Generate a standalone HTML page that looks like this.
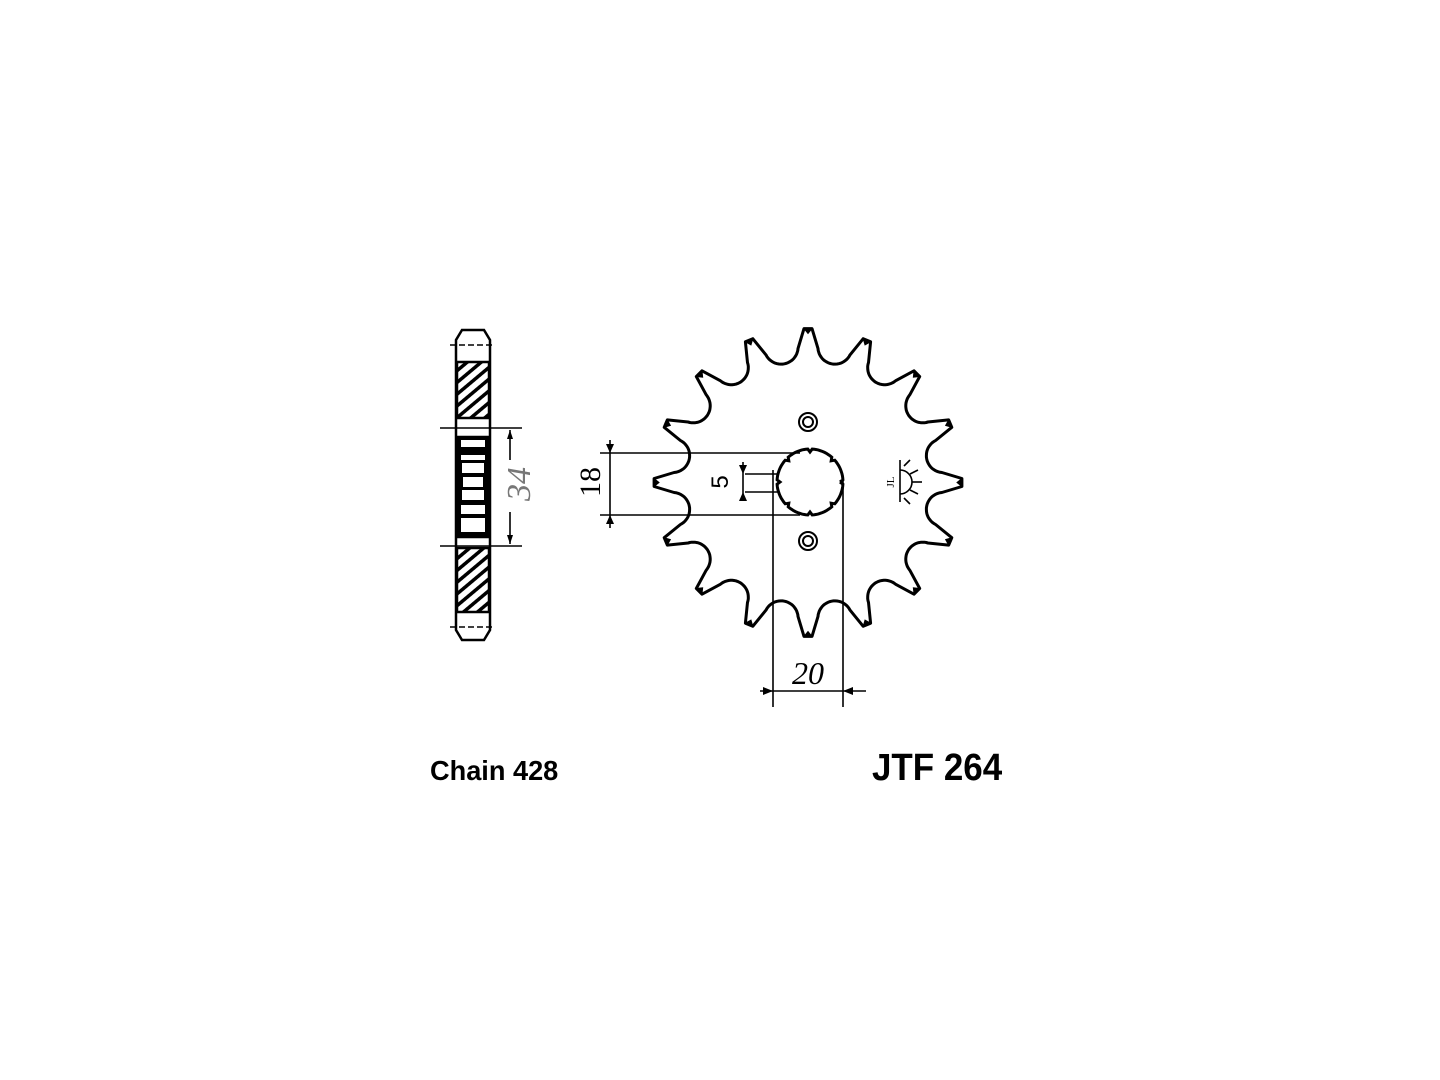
<!DOCTYPE html>
<html><head><meta charset="utf-8"><style>
html,body{margin:0;padding:0;background:#fff;width:1440px;height:1080px;overflow:hidden}
svg{position:absolute;left:0;top:0}
</style></head><body>
<svg id="s" width="1440" height="1080" viewBox="0 0 1440 1080" xmlns="http://www.w3.org/2000/svg">
<defs>
<pattern id="h" width="9" height="9" patternUnits="userSpaceOnUse" patternTransform="rotate(-40)">
<rect width="9" height="9" fill="#fff"/><rect width="9" height="3.5" fill="#000"/></pattern>
</defs>
<path id="gear" fill="none" stroke="#000" stroke-width="3" stroke-linejoin="round"/>
<g id="tips"></g>
<path id="hub" fill="none" stroke="#000" stroke-width="3"/>
<circle cx="808" cy="422" r="9" fill="none" stroke="#000" stroke-width="2"/>
<circle cx="808" cy="422" r="5" fill="none" stroke="#000" stroke-width="2"/>
<circle cx="808" cy="541" r="9" fill="none" stroke="#000" stroke-width="2"/>
<circle cx="808" cy="541" r="5" fill="none" stroke="#000" stroke-width="2"/>
<g stroke="#000" stroke-width="1.6" fill="none">
<line x1="600" y1="453" x2="800" y2="453"/>
<line x1="600" y1="515" x2="800" y2="515"/>
<line x1="610" y1="440" x2="610" y2="528"/>
<line x1="745" y1="474" x2="778" y2="474"/>
<line x1="745" y1="492" x2="778" y2="492"/>
<line x1="743" y1="462" x2="743" y2="500"/>
<line x1="773" y1="470" x2="773" y2="707"/>
<line x1="843" y1="478" x2="843" y2="707"/>
<line x1="760" y1="691" x2="866" y2="691"/>
<line x1="900" y1="460" x2="900" y2="502"/>
<path d="M900 470 A12 12 0 0 1 900 494"/>
<line x1="904" y1="466" x2="910" y2="460"/><line x1="910" y1="474" x2="918" y2="470"/>
<line x1="912" y1="482" x2="922" y2="482"/><line x1="910" y1="490" x2="918" y2="494"/>
<line x1="904" y1="498" x2="910" y2="504"/>
</g>
<g fill="#000">
<path d="M610 453 l-4 -9 h8z"/><path d="M610 515 l-4 9 h8z"/>
<path d="M743 474 l-4 -9 h8z"/><path d="M743 492 l-4 9 h8z"/>
<path d="M773 691 l-10 -4 v8z"/><path d="M843 691 l10 -4 v8z"/>
</g>
<text transform="translate(600 482) rotate(-90)" font-family="Liberation Serif, serif" font-size="30" text-anchor="middle">18</text>
<text transform="translate(728 482) rotate(-90)" font-family="Liberation Sans, sans-serif" font-size="24" text-anchor="middle">5</text>
<text x="808" y="684" font-family="Liberation Serif, serif" font-style="italic" font-size="32" text-anchor="middle">20</text>
<text transform="translate(894 482) rotate(-90)" font-family="Liberation Serif, serif" font-size="11" text-anchor="middle">JL</text>
<g stroke="#000" stroke-width="2.5">
<path d="M462 330 L484 330 L490 340 L490 630 L484 640 L462 640 L456 630 L456 340 Z" fill="#fff"/>
<rect x="457" y="362" width="32" height="56" fill="url(#h)"/>
<rect x="457" y="548" width="32" height="64" fill="url(#h)"/>
<rect x="457" y="437" width="32" height="100" fill="#000"/>
</g>
<g fill="#fff">
<rect x="461" y="440" width="24" height="7"/><rect x="461" y="455" width="24" height="5"/>
<rect x="462" y="463" width="22" height="10"/><rect x="463" y="477" width="20" height="10"/>
<rect x="462" y="490" width="22" height="10"/><rect x="461" y="505" width="24" height="9"/>
<rect x="461" y="518" width="24" height="14"/>
</g>
<g stroke="#000" stroke-width="1.6">
<line x1="450" y1="345" x2="494" y2="345" stroke-dasharray="6 3"/>
<line x1="450" y1="627" x2="494" y2="627" stroke-dasharray="6 3"/>
<line x1="440" y1="428" x2="522" y2="428"/>
<line x1="440" y1="546" x2="522" y2="546"/>
<line x1="510" y1="430" x2="510" y2="460"/>
<line x1="510" y1="512" x2="510" y2="544"/>
</g>
<path d="M510 430 l-3 9 h6z M510 544 l-3 -9 h6z" fill="#000"/>
<text transform="translate(530 484) rotate(-90)" font-family="Liberation Serif, serif" font-style="italic" font-size="34" fill="#777" text-anchor="middle">34</text>
<text x="430" y="780" font-family="Liberation Sans, sans-serif" font-weight="bold" font-size="28" transform="translate(430 0) scale(0.97 1) translate(-430 0)">Chain 428</text>
<text x="872" y="780" font-family="Liberation Sans, sans-serif" font-weight="bold" font-size="38" transform="translate(872 0) scale(0.92 1) translate(-872 0)">JTF 264</text>
</svg>
<script>
(function(){
var cx=808,cy=482.5,N=16,Rt=154,Rc=138,rr=17;
var d="",tips="";
function P(a,r){return [cx+r*Math.sin(a),cy-r*Math.cos(a)];}
for(var k=0;k<N;k++){
 var a=k*2*Math.PI/N, w=0.026;
 var p1=P(a-w,Rt),p2=P(a+w,Rt);
 d+=(k==0?"M":"L")+p1[0].toFixed(1)+" "+p1[1].toFixed(1)+"L"+p2[0].toFixed(1)+" "+p2[1].toFixed(1);
 var q=P(a,Rt-5);
 tips+='<path d="M'+p1+' L'+p2+' L'+q+'Z" fill="#000" stroke="#000" stroke-width="1"/>';
 var m=a+Math.PI/N, c=P(m,Rc);
 var ux=Math.sin(m),uy=-Math.cos(m), ang=Math.atan2(uy,ux);
 for(var i=0;i<=24;i++){
  var t=ang-1.85-(i/24)*(2*Math.PI-3.7);
  var x=c[0]+rr*Math.cos(t), y=c[1]+rr*Math.sin(t);
  d+="L"+x.toFixed(1)+" "+y.toFixed(1);
 }
}
d+="Z";
document.getElementById("gear").setAttribute("d",d);
document.getElementById("tips").innerHTML=tips;
var hd="",hx=810,hy=482,R=33;
for(var i=0;i<=96;i++){var t=i/96*2*Math.PI;var r=R-((i%12==0)?3:0);hd+=(i?"L":"M")+(hx+r*Math.cos(t)).toFixed(1)+" "+(hy+r*Math.sin(t)).toFixed(1);}
document.getElementById("hub").setAttribute("d",hd);
})();
</script>
</body></html>
